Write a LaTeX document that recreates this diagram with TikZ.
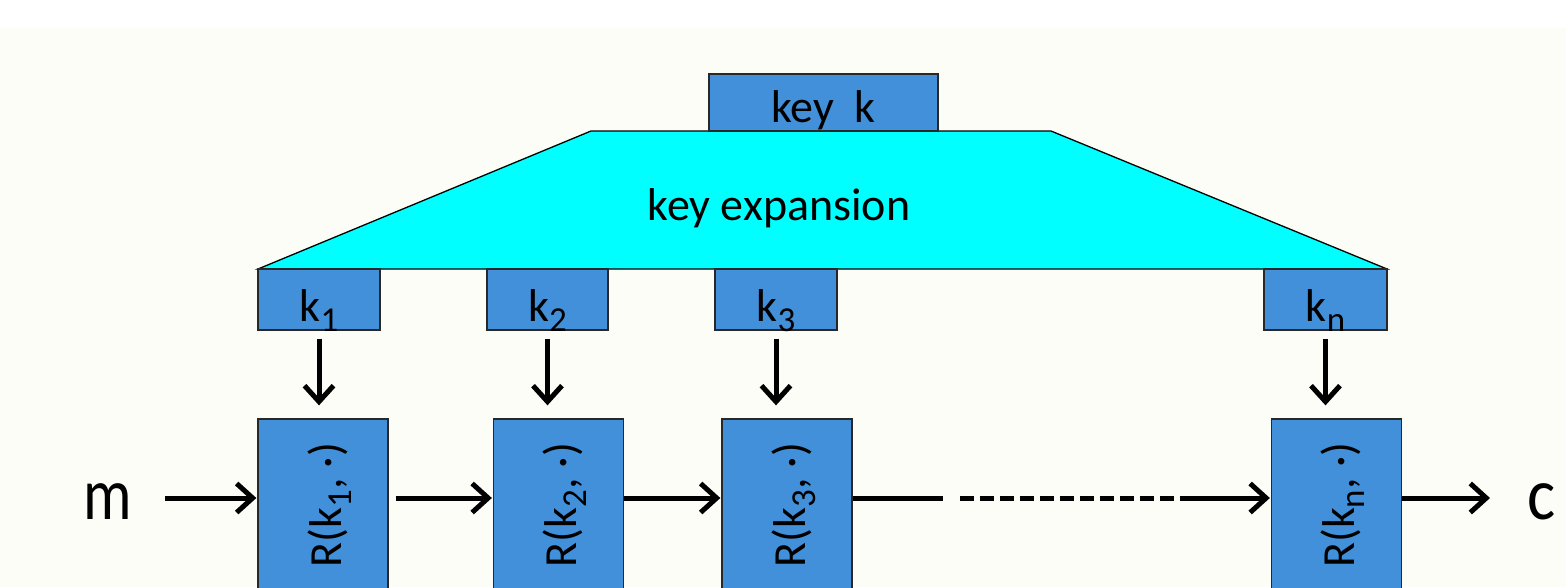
\documentclass[tikz,border=0pt]{standalone}
\usepackage{fontspec}
\setmainfont{Carlito}
\usetikzlibrary{arrows.meta}
\definecolor{boxblue}{RGB}{66,144,218}
\definecolor{bg}{RGB}{253,253,247}
\definecolor{edge}{RGB}{40,40,40}
\definecolor{expcyan}{RGB}{0,255,255}
\newcommand{\sbs}[1]{\raisebox{-0.22em}[0pt][0pt]{\fontsize{35}{35}\selectfont #1}}
\newcommand{\lab}[2]{\raisebox{0pt}[#1][0pt]{#2}}
\tikzset{
  kbox/.style={draw=edge, line width=1.3pt, fill=boxblue, inner sep=0pt,
    font=\fontsize{46}{50}\selectfont},
  rbox/.style={kbox, minimum width=130pt, minimum height=172pt},
  flow/.style={line width=5pt, -{Straight Barb[length=16pt,width=29pt,line width=5pt]}},
  plain/.style={line width=5pt},
  iotext/.style={font=\fontsize{74}{80}\selectfont},
}
\begin{document}
\begin{tikzpicture}[x=1pt,y=-1pt]
\useasboundingbox (0,0) rectangle (1566,587);
\clip (0,0) rectangle (1566,587);
\fill[white] (0,0) rectangle (1566,587);
\fill[bg] (0,28) rectangle (1566,587);
% key expansion trapezoid
\draw[fill=expcyan, draw=black, line width=1.3pt] (591,131) -- (1051,131) -- (1387,269) -- (258,269) -- cycle;
\node[font=\fontsize{46}{50}\selectfont] (exp) at (779,208) {key expansion};
\node[kbox, minimum width=229pt, minimum height=57pt] (key) at (823.5,102.5) {\lab{40pt}{key~~k}};
% round keys
\node[kbox, minimum width=122pt, minimum height=61pt] (k1) at (319,299.5) {\lab{44pt}{k\sbs{1}}};
\node[kbox, minimum width=121pt, minimum height=61pt] (k2) at (547.5,299.5) {\lab{44pt}{k\sbs{2}}};
\node[kbox, minimum width=122pt, minimum height=61pt] (k3) at (776,299.5) {\lab{44pt}{k\sbs{3}}};
\node[kbox, minimum width=123pt, minimum height=61pt] (kn) at (1325.5,299.5) {\lab{44pt}{k\sbs{n}}};
% round functions
\node[rbox] (R1) at (323,505) {\rotatebox{90}{\lab{36pt}{R(k\sbs{1}, ·)}}};
\node[rbox] (R2) at (558.5,505) {\rotatebox{90}{\lab{36pt}{R(k\sbs{2}, ·)}}};
\node[rbox] (R3) at (787,505) {\rotatebox{90}{\lab{36pt}{R(k\sbs{3}, ·)}}};
\node[rbox] (Rn) at (1336.5,505) {\rotatebox{90}{\lab{36pt}{R(k\sbs{n}, ·)}}};
% input / output
\node[iotext] (m) at (108,502) {\scalebox{0.82}[1]{m}};
\node[iotext] (c) at (1542,502) {\scalebox{0.9}[1]{c}};
% key arrows
\foreach \k/\r in {k1/R1,k2/R2,k3/R3,kn/Rn}{
  \draw[flow, shorten <=8pt, shorten >=13pt] (\k.south) -- (\k.south |- \r.north);
}
% data path
\coordinate (a1) at (943,498);
\coordinate (a2) at (960,498);
\coordinate (a3) at (1190,498);
\draw[flow, shorten >=1pt] (165,498) coordinate (min) -- (R1.west |- min);
\draw[flow, shorten <=7pt, shorten >=1pt] (R1.east |- a1) -- (R2.west |- a1);
\draw[flow, shorten >=1pt] (R2.east |- a1) -- (R3.west |- a1);
\draw[plain] (R3.east |- a1) -- (a1);
\draw[plain, dash pattern=on 14pt off 6pt] (a2) -- (a3);
\draw[flow, shorten >=1pt] (a3) -- (Rn.west |- a3);
\draw[flow] (Rn.east |- a1) -- (1490,498) coordinate (cin);
\end{tikzpicture}
\end{document}
